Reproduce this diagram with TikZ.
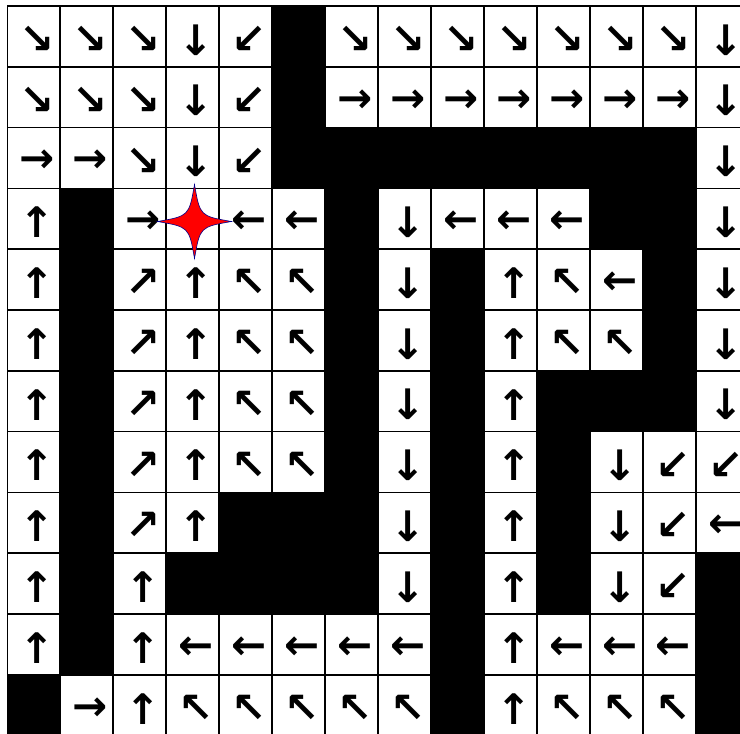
\documentclass[tikz,border=0pt]{standalone}
\usepackage{fontspec}
\newfontfamily\arrowfont{DejaVu Sans}
\newcommand\glyphr{→}
\newcommand\glyphl{←}
\newcommand\glyphu{↑}
\newcommand\glyphd{↓}
\newcommand\glyphse{↘}
\newcommand\glyphsw{↙}
\newcommand\glyphne{↗}
\newcommand\glyphnw{↖}
\newcommand\glypho{}
\newcommand\glyphx{}
\tikzset{
  cell/.style={draw,line width=1.6pt,minimum width=52.98pt,minimum height=60.8pt,
    inner sep=0pt,outer sep=0pt},
  glyph/.style={inner sep=0pt,xshift=3.5pt,yshift=-3.5pt,font=\arrowfont\bfseries\fontsize{42}{42}\selectfont},
  code x/.style={fill=black},
  code o/.style={}, code r/.style={}, code l/.style={}, code u/.style={}, code d/.style={},
  code se/.style={}, code sw/.style={}, code ne/.style={}, code nw/.style={},
  spark/.style={fill=red,draw=blue!55!black,line width=0.6pt}
}
\begin{document}
\begin{tikzpicture}[x=1pt,y=-1pt]
\fill[white] (0,0) rectangle (740,734);
\useasboundingbox (0,0) rectangle (740,734);
% maze, one list per row
\foreach \rowcodes [count=\r from 0] in {
  {se,se,se,d,sw,x,se,se,se,se,se,se,se,d},
  {se,se,se,d,sw,x,r,r,r,r,r,r,r,d},
  {r,r,se,d,sw,x,x,x,x,x,x,x,x,d},
  {u,x,r,o,l,l,x,d,l,l,l,x,x,d},
  {u,x,ne,u,nw,nw,x,d,x,u,nw,l,x,d},
  {u,x,ne,u,nw,nw,x,d,x,u,nw,nw,x,d},
  {u,x,ne,u,nw,nw,x,d,x,u,x,x,x,d},
  {u,x,ne,u,nw,nw,x,d,x,u,x,d,sw,sw},
  {u,x,ne,u,x,x,x,d,x,u,x,d,sw,l},
  {u,x,u,x,x,x,x,d,x,u,x,d,sw,x},
  {u,x,u,l,l,l,l,l,x,u,l,l,l,x},
  {x,r,u,nw,nw,nw,nw,nw,x,u,nw,nw,nw,x}}{
  \foreach \c [count=\k from 0] in \rowcodes {
    \node[cell,code \c,label={[glyph]center:\csname glyph\c\endcsname}] (c\r-\k)
      at ({7.3+52.98*(\k+0.5)},{6+60.8*(\r+0.5)}) {};
  }
}
% goal marker
\coordinate (goal) at (194.5,221.5);
\begin{scope}[shift={(goal)}]
\draw[spark] (0,-37) .. controls (5.5,-5.5) .. (37,0) .. controls (5.5,5.5) .. (0,37)
  .. controls (-5.5,5.5) .. (-37,0) .. controls (-5.5,-5.5) .. cycle;
\end{scope}
\end{tikzpicture}
\end{document}
